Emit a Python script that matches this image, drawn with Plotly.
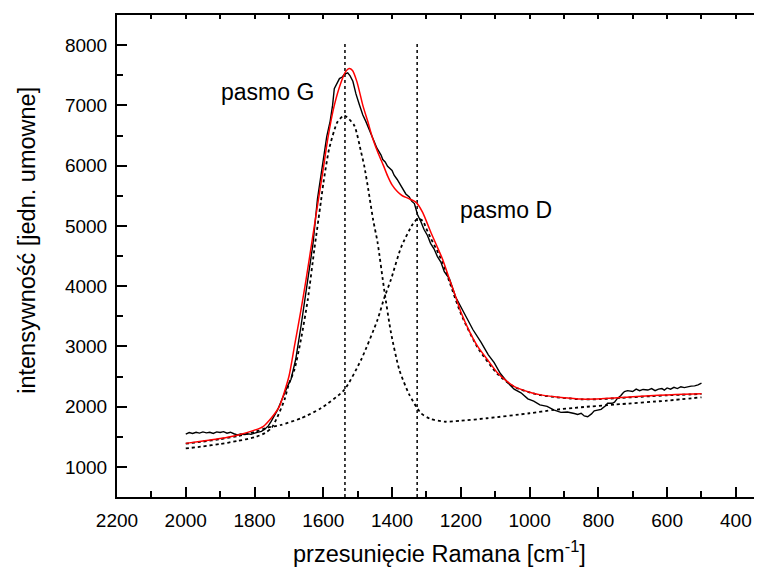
import plotly.graph_objects as go

meas_x = [2000, 1990, 1980, 1970, 1960, 1950, 1940, 1930, 1920, 1910, 1900, 1890, 1880, 1870, 1860,
          1850, 1840, 1830, 1820, 1810, 1800, 1790, 1780, 1771, 1760, 1752, 1740, 1733, 1723, 1713,
          1704, 1694, 1680, 1665, 1650, 1640, 1630, 1617, 1605, 1597, 1590, 1580, 1573, 1568, 1560,
          1553, 1545, 1538, 1529, 1522, 1514, 1505, 1495, 1485, 1476, 1466, 1456, 1444, 1432, 1427,
          1420, 1413, 1400, 1394, 1385, 1374, 1369, 1360, 1350, 1343, 1335, 1326, 1316, 1307, 1297,
          1288, 1278, 1268, 1258, 1248, 1233, 1215, 1190, 1165, 1141, 1120, 1103, 1085, 1064, 1045,
          1025, 1005, 988, 970, 949, 930, 909, 890, 870, 860, 850, 841, 831, 820, 812,
          800, 792, 780, 773, 760, 753, 744, 735, 729, 724, 715, 700, 690, 680, 670,
          656, 645, 635, 625, 615, 608, 600, 590, 580, 570, 560, 550, 540, 530, 520,
          510, 500]
meas_y = [1545, 1570, 1555, 1575, 1560, 1580, 1565, 1575, 1555, 1580, 1570, 1585, 1560, 1575, 1550,
          1530, 1545, 1535, 1550, 1540, 1560, 1570, 1590, 1620, 1680, 1750, 1860, 1945, 2080, 2223,
          2340, 2450, 2790, 3330, 3900, 4300, 4700, 5445, 5900, 6278, 6480, 6740, 7000, 7278, 7360,
          7445, 7470, 7520, 7540, 7490, 7400, 7190, 7010, 6840, 6730, 6590, 6455, 6290, 6175, 6100,
          6060, 5990, 5920, 5840, 5770, 5660, 5620, 5530, 5480, 5410, 5370, 5190, 5070, 4940, 4840,
          4710, 4620, 4490, 4400, 4240, 4120, 3820, 3550, 3280, 3065, 2860, 2730, 2550, 2400, 2290,
          2230, 2130, 2090, 2030, 2005, 1945, 1905, 1910, 1885, 1870, 1890, 1845, 1833, 1880, 1930,
          1945, 1955, 2010, 2057, 2055, 2075, 2140, 2180, 2223, 2250, 2265, 2250, 2290, 2265, 2285,
          2275, 2300, 2265, 2290, 2300, 2275, 2310, 2290, 2320, 2300, 2330, 2315, 2333, 2340, 2345,
          2360, 2390]

# fitted curve (red)
fit_x = [2000, 1950, 1900, 1850, 1800, 1775, 1750, 1728, 1700, 1684, 1665, 1650, 1630, 1614, 1600,
         1587, 1568, 1548, 1535, 1525, 1515, 1502, 1485, 1470, 1456, 1440, 1425, 1413, 1400, 1384,
         1370, 1350, 1330, 1311, 1287, 1270, 1253, 1233, 1219, 1199, 1175, 1151, 1120, 1093, 1070,
         1044, 1000, 967, 920, 880, 850, 792, 734, 700, 650, 600, 550, 500]
fit_y = [1390, 1430, 1470, 1525, 1610, 1670, 1820, 2000, 2500, 3000, 3600, 4111, 4850, 5445, 5950,
         6445, 7000, 7390, 7560, 7610, 7580, 7390, 7000, 6720, 6445, 6200, 6000, 5830, 5680, 5565,
         5500, 5450, 5390, 5223, 4890, 4670, 4445, 4112, 3890, 3557, 3250, 3000, 2760, 2557, 2440,
         2333, 2240, 2195, 2160, 2140, 2125, 2130, 2150, 2165, 2180, 2195, 2205, 2215]

# G band component (dotted)
g_x = [2000, 1950, 1900, 1850, 1800, 1770, 1750, 1733, 1713, 1700, 1684, 1665, 1645, 1626, 1607,
       1600, 1583, 1559, 1539, 1510, 1490, 1481, 1469, 1455, 1442, 1423, 1403, 1379, 1350, 1316,
       1290, 1248, 1200, 1124, 1000, 930, 850, 750, 600, 500]
g_y = [1306, 1340, 1380, 1430, 1490, 1560, 1650, 1833, 2112, 2380, 2612, 3112, 3778, 4612, 5400,
       5700, 6278, 6723, 6833, 6667, 6223, 6000, 5600, 5100, 4723, 3945, 3223, 2612, 2200, 1890,
       1800, 1750, 1765, 1807, 1890, 1945, 1990, 2035, 2100, 2155]

# D band component (dotted)
d_x = [2000, 1950, 1900, 1850, 1800, 1762, 1724, 1665, 1607, 1539, 1490, 1442, 1423, 1403, 1374,
       1340, 1325, 1310, 1300, 1287, 1270, 1253, 1233, 1199, 1151, 1093, 1044, 1000, 967, 920,
       880, 850, 792, 734, 650, 600, 500]
d_y = [1385, 1420, 1460, 1510, 1580, 1650, 1695, 1806, 1973, 2278, 2778, 3445, 3800, 4112, 4640,
       5028, 5120, 5080, 4950, 4790, 4600, 4390, 4070, 3530, 2980, 2540, 2325, 2235, 2190, 2155,
       2135, 2120, 2125, 2145, 2172, 2187, 2210]

# band positions (vertical dotted markers)
band_pos = [1537, 1327]
band_span = [500, 8050]

labels = ["pasmo G", "pasmo D"]
label_x = [1903, 1208]
label_y = [7230, 5270]

FONT = "Arial, Liberation Sans, sans-serif"

fig = go.Figure()

for bx in band_pos:
    fig.add_trace(go.Scatter(x=[bx, bx], y=band_span, mode="lines",
                             line=dict(color="black", width=1.5, dash="dot"), showlegend=False))

fig.add_trace(go.Scatter(x=g_x, y=g_y, mode="lines",
                         line=dict(color="black", width=1.8, dash="dot", shape="spline", smoothing=0.6),
                         showlegend=False))
fig.add_trace(go.Scatter(x=d_x, y=d_y, mode="lines",
                         line=dict(color="black", width=1.8, dash="dot", shape="spline", smoothing=0.6),
                         showlegend=False))
fig.add_trace(go.Scatter(x=meas_x, y=meas_y, mode="lines", line=dict(color="black", width=1.4),
                         showlegend=False))
fig.add_trace(go.Scatter(x=fit_x, y=fit_y, mode="lines",
                         line=dict(color="#ff0000", width=1.5, shape="spline", smoothing=0.6),
                         showlegend=False))

for t, lx, ly in zip(labels, label_x, label_y):
    fig.add_annotation(x=lx, y=ly, text=t, showarrow=False, xanchor="left", yanchor="middle",
                       font=dict(size=23, color="black", family=FONT))

# axis titles
fig.add_annotation(xref="paper", yref="paper", x=-0.14, y=0.533, text="intensywność [jedn. umowne]",
                   textangle=-90, showarrow=False, xanchor="center", yanchor="middle",
                   font=dict(size=23.5, color="black", family=FONT))
fig.add_annotation(xref="paper", yref="paper", x=0.5, y=-0.114, text="przesunięcie Ramana [cm<sup>-1</sup>]",
                   showarrow=False, xanchor="center", yanchor="middle",
                   font=dict(size=23.5, color="black", family=FONT))

# page body has an 8px margin, so the figure is 8px smaller than the window
fig.update_layout(
    width=754, height=560,
    margin=dict(l=109, r=0, t=7, b=71),
    plot_bgcolor="white", paper_bgcolor="white",
    font=dict(family=FONT, size=19, color="black"),
    xaxis=dict(range=[2200, 324], dtick=200, tick0=0, ticks="inside", ticklen=10, tickwidth=2,
               minor=dict(dtick=100, ticks="inside", ticklen=6, tickwidth=2, tickcolor="black"),
               showline=True, linecolor="black", linewidth=2, mirror=True, showgrid=False,
               zeroline=False, tickcolor="black", tickfont=dict(size=19), ticklabelstandoff=5),
    yaxis=dict(range=[500, 8500], dtick=1000, tick0=0, ticks="inside", ticklen=10, tickwidth=2,
               minor=dict(dtick=500, ticks="inside", ticklen=6, tickwidth=2, tickcolor="black"),
               showline=True, linecolor="black", linewidth=2, mirror=False, showgrid=False,
               zeroline=False, tickcolor="black", tickfont=dict(size=19), ticklabelstandoff=4),
    xaxis2=dict(overlaying="x", side="top", range=[2200, 324], dtick=100, tick0=0, ticks="inside",
                ticklen=4, tickwidth=1.5, tickcolor="black", showticklabels=False, showgrid=False,
                zeroline=False, showline=False),
)
fig.add_trace(go.Scatter(x=[2200], y=[500], xaxis="x2", mode="markers", marker=dict(opacity=0),
                         showlegend=False, hoverinfo="skip"))

fig.write_html("out.html")
